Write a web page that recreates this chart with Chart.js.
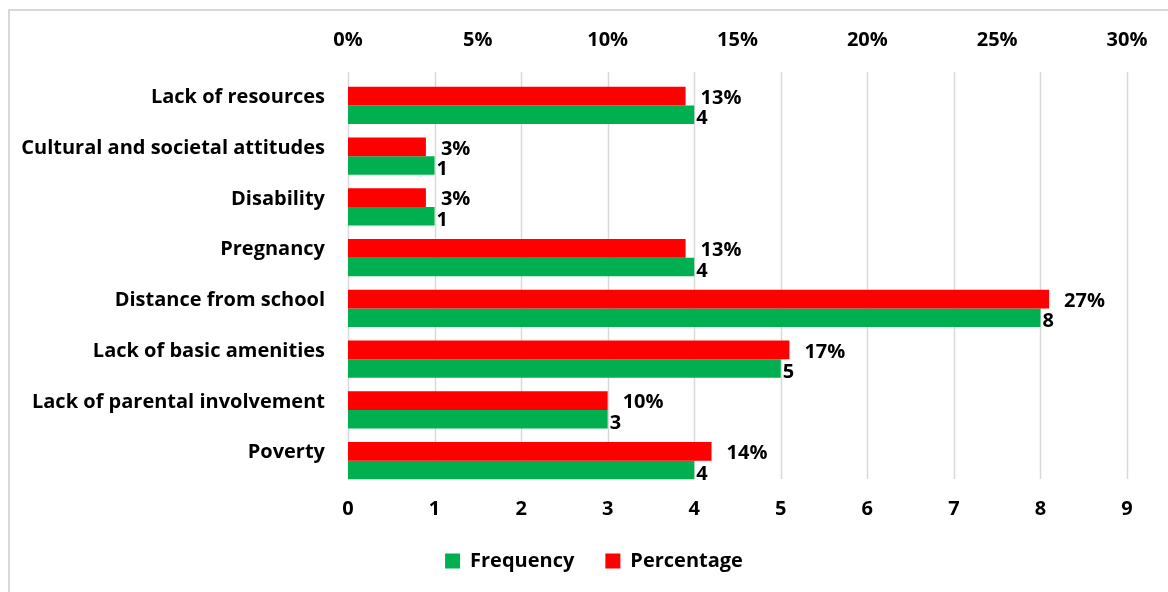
<!DOCTYPE html>
<html>
<head>
<meta charset="utf-8">
<title>Barriers to schooling</title>
<script src="https://cdn.jsdelivr.net/npm/chart.js@4.4.1/dist/chart.umd.min.js"></script>
<style>
  html, body { margin: 0; padding: 0; background: #fff; }
  canvas { display: block; }
</style>
</head>
<body>
<canvas id="myChart" width="1168" height="592"></canvas>
<script>
// reasons given, top to bottom
const categories = [
    'Lack of resources',
    'Cultural and societal attitudes',
    'Disability',
    'Pregnancy',
    'Distance from school',
    'Lack of basic amenities',
    'Lack of parental involvement',
    'Poverty'
];
const frequency = [4, 1, 1, 4, 8, 5, 3, 4];
const percentage = [13, 3, 3, 13, 27, 17, 10, 14];
const frequencyTicks = [0, 1, 2, 3, 4, 5, 6, 7, 8, 9];

const GREEN = '#00B050';
const RED = '#FF0000';
const GRID = '#D9D9D9';
const FONT = "'Open Sans', sans-serif";
const SIZE = 20;

// white background plus a light frame along the top and left edge
const framePlugin = {
    id: 'frame',
    beforeDraw(chart) {
        const ctx = chart.ctx;
        ctx.save();
        ctx.fillStyle = '#fff';
        ctx.fillRect(0, 0, chart.width, chart.height);
        ctx.strokeStyle = GRID;
        ctx.lineWidth = 2;
        ctx.beginPath();
        ctx.moveTo(9, chart.height);
        ctx.lineTo(9, 10);
        ctx.lineTo(chart.width, 10);
        ctx.stroke();
        ctx.restore();
    }
};

// vertical gridlines for the frequency axis, a bit taller at the top than the bars
const gridPlugin = {
    id: 'freqGrid',
    beforeDatasetsDraw(chart) {
        const ctx = chart.ctx;
        const x = chart.scales.x;
        const area = chart.chartArea;
        ctx.save();
        ctx.strokeStyle = GRID;
        ctx.lineWidth = 1.5;
        frequencyTicks.forEach(v => {
            const px = Math.round(x.getPixelForValue(v)) + 0.5;
            ctx.beginPath();
            ctx.moveTo(px, area.top - 8);
            ctx.lineTo(px, area.bottom - 7);
            ctx.stroke();
        });
        ctx.restore();
    }
};

// value labels at the end of each bar
const valueLabels = {
    id: 'valueLabels',
    afterDatasetsDraw(chart) {
        const ctx = chart.ctx;
        ctx.save();
        ctx.font = "bold " + SIZE + "px " + FONT;
        ctx.fillStyle = '#000';
        ctx.textBaseline = 'middle';
        ctx.textAlign = 'left';
        chart.data.datasets.forEach((ds, i) => {
            const meta = chart.getDatasetMeta(i);
            const isPct = ds.xAxisID === 'x2';
            meta.data.forEach((bar, j) => {
                const txt = isPct ? ds.data[j] + '%' : String(ds.data[j]);
                const dx = isPct ? 15 : 2;
                const dy = isPct ? 2 : 4;
                ctx.fillText(txt, bar.x + dx, bar.y + dy);
            });
        });
        ctx.restore();
    }
};

const tickFont = { family: FONT, size: SIZE, weight: 'bold' };

// the value axes keep a fixed gap on the right instead of sizing it from the last label
function fixSidePadding(scale) {
    scale.paddingLeft = 0;
    scale.paddingRight = 41;
}

const ctx = document.getElementById('myChart').getContext('2d');
new Chart(ctx, {
    type: 'bar',
    data: {
        labels: categories,
        datasets: [
            {
                label: 'Percentage',
                data: percentage,
                backgroundColor: RED,
                xAxisID: 'x2',
                categoryPercentage: 0.73,
                barPercentage: 1.0
            },
            {
                label: 'Frequency',
                data: frequency,
                backgroundColor: GREEN,
                xAxisID: 'x',
                categoryPercentage: 0.73,
                barPercentage: 1.0
            }
        ]
    },
    options: {
        indexAxis: 'y',
        responsive: false,
        animation: false,
        // negative right padding just nudges the centred legend to the right
        layout: { padding: { left: 10, right: -10, top: 10, bottom: 11 } },
        scales: {
            x: {
                position: 'bottom',
                min: 0,
                max: 9,
                ticks: { stepSize: 1, color: '#000', padding: 11, font: tickFont },
                grid: { display: false, drawTicks: false },
                border: { display: false },
                afterFit(scale) {
                    scale.height = 34;
                    fixSidePadding(scale);
                }
            },
            x2: {
                position: 'top',
                min: 0,
                max: 30,
                ticks: {
                    stepSize: 5,
                    color: '#000',
                    padding: 28,
                    callback: v => v + '%',
                    font: tickFont
                },
                grid: { display: false, drawTicks: false },
                border: { display: false },
                afterFit(scale) {
                    scale.height = 70;
                    fixSidePadding(scale);
                }
            },
            y: {
                ticks: { color: '#000', padding: 23, labelOffset: -8, font: tickFont },
                grid: { display: false, drawTicks: false },
                border: { display: false },
                afterFit(scale) { scale.width = 338; }
            }
        },
        plugins: {
            tooltip: { enabled: false },
            legend: {
                position: 'bottom',
                labels: {
                    color: '#000',
                    boxWidth: 15,
                    boxHeight: 15,
                    padding: 31,
                    font: tickFont,
                    sort: (a, b) => b.datasetIndex - a.datasetIndex
                }
            }
        }
    },
    plugins: [framePlugin, gridPlugin, valueLabels]
});
</script>
</body>
</html>
